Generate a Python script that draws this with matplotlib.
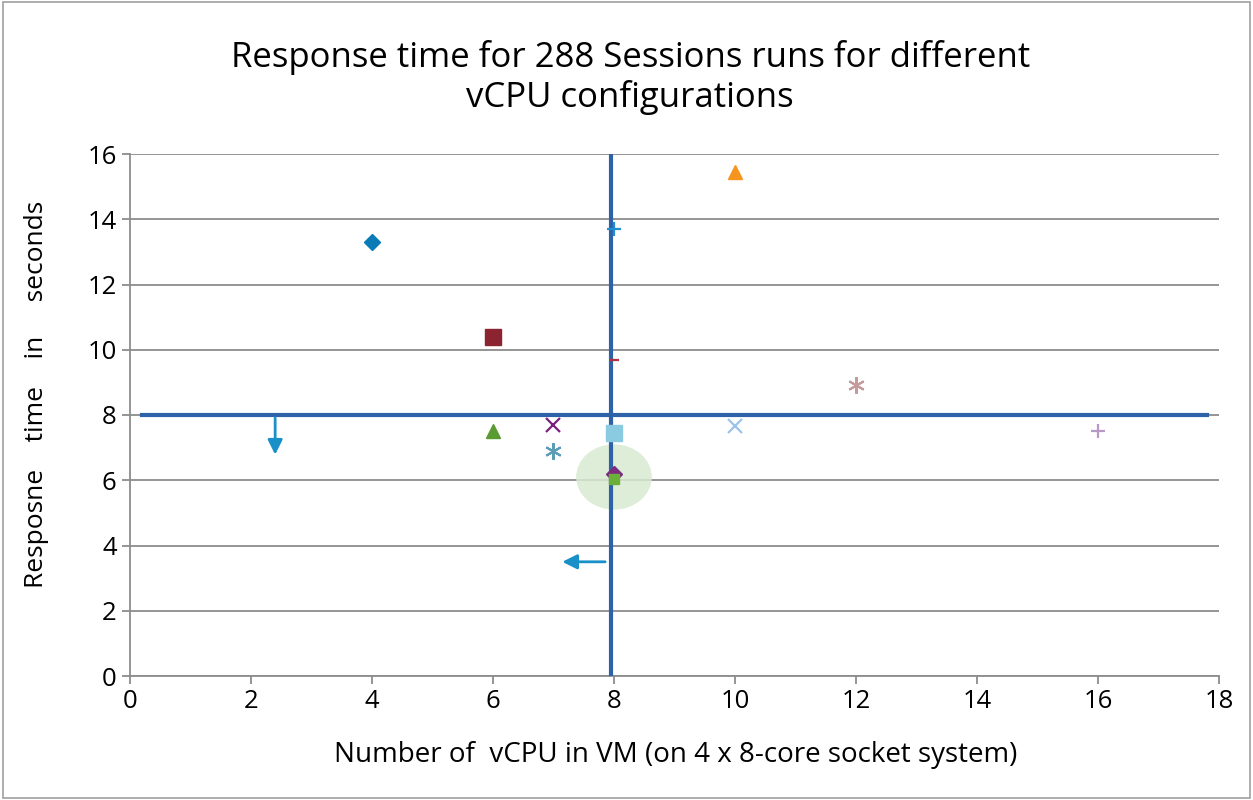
import matplotlib.pyplot as plt
from matplotlib.patches import Ellipse, Rectangle

plt.rcParams['font.family'] = ['Open Sans', 'DejaVu Sans']

# points: (vcpu, seconds, marker, colour, size)
vcpu = [4, 6, 6, 10, 7, 7, 8, 8, 8, 8, 8, 10, 12, 16]
resp = [13.3, 10.4, 7.5, 15.45, 7.7, 6.9, 13.7, 9.7, 7.45, 6.2, 6.05, 7.65, 8.93, 7.5]
markers = ['D', 's', '^', '^', 'x', '*', '+', '_', 's', 'D', 's', 'x', '*', '+']
colores = ['#0B7BB7', '#8B2331', '#5A9A32', '#F7941D', '#7A1F7E', '#5C9CB4',
           '#1E90D0', '#B4303C', '#8ACBE2', '#7B2C80', '#6AAF3A', '#9CC3EA',
           '#C49A9A', '#B898C4']
tamanos = [8, 11, 10, 10, 10, 12, 10, 7, 11, 8, 7, 10, 12, 10]

x_ticks = list(range(0, 19, 2))
y_ticks = list(range(0, 17, 2))

fig = plt.figure(figsize=(12.53, 8), dpi=100)
fig.patches.append(Rectangle((0.002, 0.002), 0.996, 0.996, transform=fig.transFigure,
                             fill=False, edgecolor='#A0A0A0', linewidth=1.2))
ax = fig.add_axes([0.1037, 0.155, 0.8692, 0.6525])

ax.add_patch(Ellipse((8, 6.1), 1.25, 2.0, facecolor='#D9EAD0', edgecolor='none',
                     alpha=0.85, zorder=1))

for i in range(len(vcpu)):
    m = markers[i]
    if m in ['x', '+', '_']:
        ax.plot(vcpu[i], resp[i], marker=m, color=colores[i], markersize=tamanos[i],
                markeredgewidth=1.6, linestyle='none', zorder=4)
    elif m == '*':
        ax.plot(vcpu[i], resp[i], marker=(6, 2, 0), color=colores[i], markersize=tamanos[i],
                markeredgewidth=1.5, linestyle='none', zorder=4)
    else:
        ax.plot(vcpu[i], resp[i], marker=m, color=colores[i], markersize=tamanos[i],
                markeredgecolor=colores[i], linestyle='none', zorder=4)

# quadrant lines
ax.plot([0.2, 17.8], [8, 8], color='#2E62A8', linewidth=3, zorder=3)
ax.plot([7.95, 7.95], [0, 16], color='#2E62A8', linewidth=3, zorder=3)

# arrows
ax.annotate('', xy=(2.4, 6.7), xytext=(2.4, 8),
            arrowprops=dict(arrowstyle='-|>', color='#1A90C8', lw=2, mutation_scale=22), zorder=5)
ax.annotate('', xy=(7.1, 3.5), xytext=(7.9, 3.5),
            arrowprops=dict(arrowstyle='-|>', color='#1A90C8', lw=2, mutation_scale=22), zorder=5)

ax.set_xlim(0, 18)
ax.set_ylim(0, 16)
ax.set_xticks(x_ticks)
ax.set_yticks(y_ticks)
ax.grid(axis='y', color='#8C8C8C', linewidth=1.3)
ax.set_axisbelow(True)
for lado in ['top', 'right']:
    ax.spines[lado].set_visible(False)
for lado in ['left', 'bottom']:
    ax.spines[lado].set_color('#8C8C8C')
    ax.spines[lado].set_linewidth(1.3)
ax.tick_params(labelsize=18.5, color='#8C8C8C', length=6, width=1.3)

ax.set_xlabel('Number of  vCPU in VM (on 4 x 8-core socket system)', fontsize=20, va='center')
ax.xaxis.set_label_coords(0.501, -0.151)
ax.set_ylabel('Resposne    time    in     seconds', fontsize=19, va='center')
ax.yaxis.set_label_coords(-0.086, 0.54)
fig.text(0.503, 0.903, 'Response time for 288 Sessions runs for different\nvCPU configurations',
         ha='center', va='center', fontsize=25, linespacing=1.2)

plt.savefig('out.png')
plt.close()
